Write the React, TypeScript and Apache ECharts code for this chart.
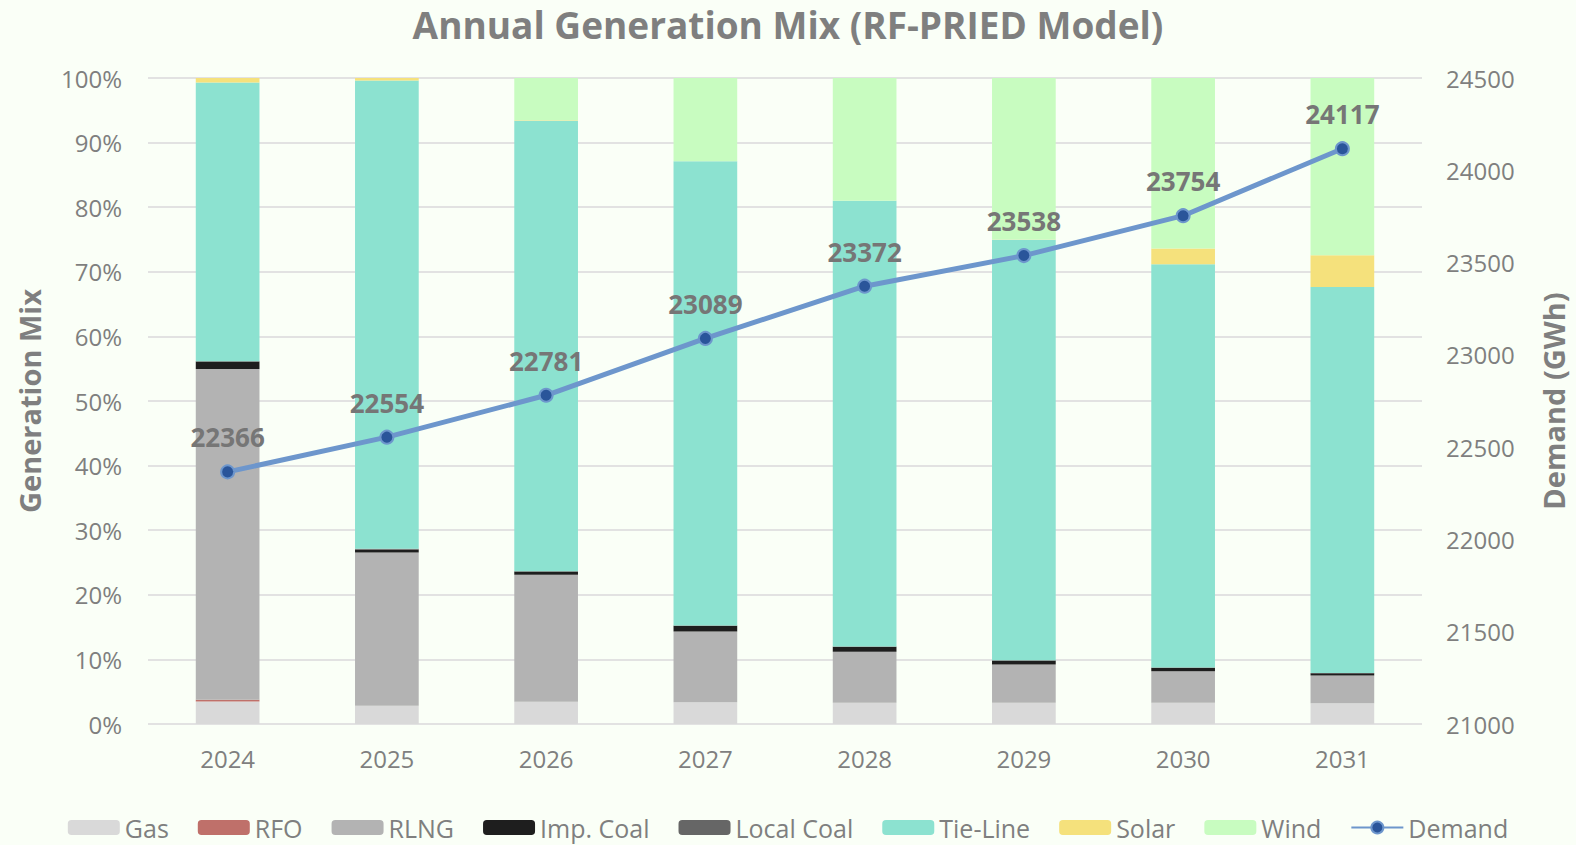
import React, { useEffect, useRef } from "react";
import * as echarts from "echarts";

const years = ["2024", "2025", "2026", "2027", "2028", "2029", "2030", "2031"];
const gas = [3.5, 2.83, 3.45, 3.35, 3.3, 3.3, 3.3, 3.2];
const rfo = [0.26, 0, 0, 0, 0, 0, 0, 0];
const rlng = [51.2, 23.7, 19.65, 10.95, 7.9, 5.9, 4.85, 4.3];
const impCoal = [1.15, 0.5, 0.5, 0.9, 0.75, 0.6, 0.55, 0.35];
const localCoal = [0.05, 0.1, 0.05, 0.05, 0.05, 0.05, 0.05, 0.05];
const tieLine = [43.14, 72.47, 69.75, 71.85, 69.0, 65.1, 62.4, 59.75];
const solar = [0.7, 0.4, 0.05, 0.0, 0.0, 0.05, 2.45, 4.9];
const wind = [0, 0, 6.55, 12.9, 19.0, 25.0, 26.4, 27.45];
const demand = [22366, 22554, 22781, 23089, 23372, 23538, 23754, 24117];

const FONT = "'Open Sans', 'Noto Sans', sans-serif";
const GREY = "#7f7f7f";

export default function App() {
  const ref = useRef<HTMLDivElement>(null);
  useEffect(() => {
    if (!ref.current) return;
    const chart = echarts.init(ref.current, null, { renderer: "svg" });
    const bar = (name: string, data: number[], color: string) => ({
      name,
      type: "bar",
      stack: "mix",
      barWidth: "40%",
      data,
      itemStyle: { color },
      emphasis: { disabled: true },
    });
    chart.setOption({
      animation: false,
      backgroundColor: "#fafff7",
      textStyle: { fontFamily: FONT },
      title: {
        text: "Annual Generation Mix (RF-PRIED Model)",
        left: "center",
        top: 4,
        padding: 0,
        textStyle: { fontFamily: FONT, fontSize: 37, fontWeight: "bold", color: GREY, lineHeight: 40 },
      },
      legend: {
        bottom: 0,
        left: "center",
        itemWidth: 52,
        itemHeight: 15,
        itemGap: 29,
        textStyle: { fontFamily: FONT, fontSize: 25, color: GREY },
        data: ["Gas", "RFO", "RLNG", "Imp. Coal", "Local Coal", "Tie-Line", "Solar", "Wind", "Demand"],
      },
      grid: { left: 148, right: 154, top: 78, bottom: 121, containLabel: false },
      xAxis: {
        type: "category",
        data: years,
        axisLine: { show: false },
        axisTick: { show: false },
        axisLabel: { fontSize: 24, color: GREY, margin: 22, fontFamily: FONT },
      },
      yAxis: [
        {
          type: "value",
          min: 0,
          max: 100,
          interval: 10,
          name: "Generation Mix",
          nameLocation: "middle",
          nameGap: 104,
          nameTextStyle: { fontSize: 29, fontWeight: "bold", color: GREY, fontFamily: FONT },
          axisLabel: { formatter: "{value}%", fontSize: 24, color: GREY, margin: 26, fontFamily: FONT },
          splitLine: { lineStyle: { color: "#e2e2e2", width: 2 } },
          axisLine: { show: false },
          axisTick: { show: false },
        },
        {
          type: "value",
          min: 21000,
          max: 24500,
          interval: 500,
          name: "Demand (GWh)",
          nameLocation: "middle",
          nameGap: 117,
          nameRotate: 90,
          nameTextStyle: { fontSize: 29, fontWeight: "bold", color: GREY, fontFamily: FONT },
          axisLabel: { fontSize: 24, color: GREY, margin: 24, fontFamily: FONT, formatter: (v: number) => String(v) },
          splitLine: { show: false },
          axisLine: { show: false },
          axisTick: { show: false },
        },
      ],
      series: [
        bar("Gas", gas, "#d9d9d9"),
        bar("RFO", rfo, "#bf706a"),
        bar("RLNG", rlng, "#b3b3b3"),
        bar("Imp. Coal", impCoal, "#1e1e1e"),
        bar("Local Coal", localCoal, "#666666"),
        bar("Tie-Line", tieLine, "#8ce2d0"),
        bar("Solar", solar, "#f5e17c"),
        bar("Wind", wind, "#c8fcc0"),
        {
          name: "Demand",
          type: "line",
          yAxisIndex: 1,
          data: demand,
          symbol: "circle",
          symbolSize: 13,
          lineStyle: { color: "#6d96cc", width: 5 },
          itemStyle: { color: "#2a559a", borderColor: "#6d96cc", borderWidth: 2 },
          label: {
            show: true,
            position: "top",
            distance: 14,
            fontSize: 26,
            fontWeight: "bold",
            color: "#767676",
            fontFamily: FONT,
          },
          emphasis: { disabled: true },
          z: 10,
        },
      ],
    });
    return () => chart.dispose();
  }, []);
  return <div ref={ref} style={{ position: "absolute", left: 0, top: 0, width: 1576, height: 845 }} />;
}
